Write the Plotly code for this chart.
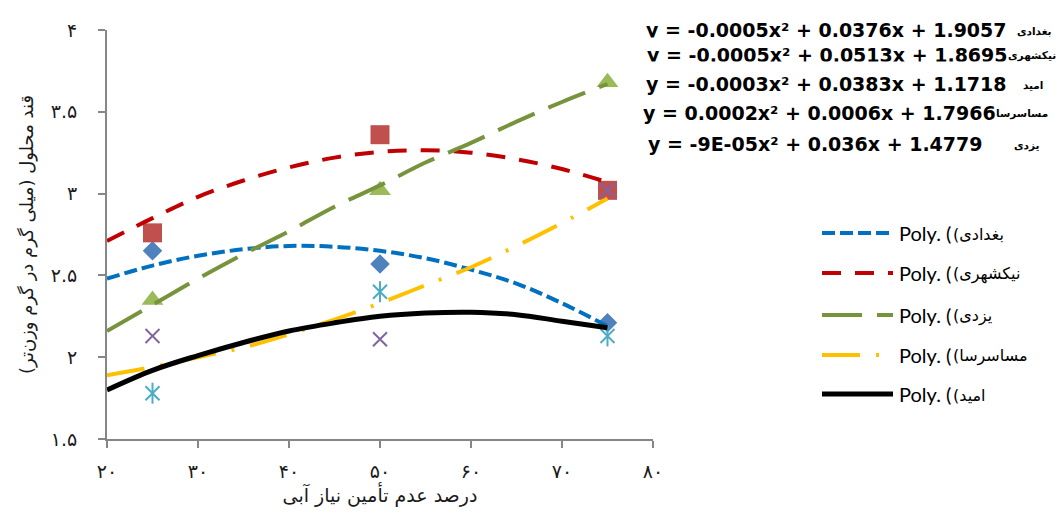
import plotly.graph_objects as go

# ---------------- data ----------------
point_x = [25, 50, 75]
baghdadi_pts = [2.65, 2.57, 2.21]      # blue diamonds
nikshahri_pts = [2.76, 3.36, 3.02]     # red squares
yazdi_pts = [2.35, 3.02, 3.68]         # green triangles
masasarsa_pts = [2.13, 2.11, 3.02]     # purple crosses
omid_pts = [1.78, 2.40, 2.13]          # cyan stars

trend_x = [20, 25, 30, 35, 40, 45, 50, 55, 60, 65, 70, 75]
baghdadi_trend = [2.48, 2.56, 2.62, 2.66, 2.68, 2.675, 2.65, 2.605, 2.535, 2.45, 2.33, 2.19]
nikshahri_trend = [2.71, 2.85, 2.98, 3.08, 3.16, 3.22, 3.255, 3.265, 3.25, 3.21, 3.15, 3.07]
yazdi_trend = [2.16, 2.32, 2.48, 2.63, 2.77, 2.92, 3.05, 3.19, 3.31, 3.44, 3.56, 3.67]
masasarsa_trend = [1.89, 1.94, 2.00, 2.06, 2.14, 2.23, 2.33, 2.44, 2.55, 2.68, 2.82, 2.97]
omid_trend = [1.80, 1.92, 2.01, 2.09, 2.16, 2.21, 2.25, 2.27, 2.275, 2.26, 2.22, 2.18]

x_tickvals = [20, 30, 40, 50, 60, 70, 80]
x_ticktext = ["۲۰", "۳۰", "۴۰", "۵۰", "۶۰", "۷۰", "۸۰"]
y_tickvals = [1.5, 2, 2.5, 3, 3.5, 4]
y_ticktext = ["۱.۵", "۲", "۲.۵", "۳", "۳.۵", "۴"]

x_title = "درصد عدم تأمین نیاز آبی"
y_title = "قند محلول (میلی گرم در گرم وزن‌تر)"

legend_names = ["بغدادی", "نیکشهری", "یزدی", "مساسرسا", "امید"]

eq_names = ["بغدادی", "نیکشهری", "امید", "مساسرسا", "یزدی"]
eq_a = ["-0.0005", "-0.0005", "-0.0003", "0.0002", "-9E-05"]
eq_b = ["0.0376", "0.0513", "0.0383", "0.0006", "0.036"]
eq_c = ["1.9057", "1.8695", "1.1718", "1.7966", "1.4779"]

# ---------------- layout geometry (pixels) ----------------
W, H = 1059, 516
L, R, T, B = 107, 653, 30, 439


def fx(px):
    return (px - L) / (R - L)


def fy(py):
    return (B - py) / (B - T)


fig = go.Figure()

# markers
marker_specs = [
    (baghdadi_pts, dict(symbol="diamond", size=15, color="#4F81BD")),
    (nikshahri_pts, dict(symbol="square", size=19, color="#C0504D")),
    (yazdi_pts, dict(symbol="triangle-up", size=19, color="#9BBB59")),
    (masasarsa_pts, dict(symbol="x-thin-open", size=14, color="#8064A2",
                         line=dict(color="#8064A2", width=2))),
    (omid_pts, dict(symbol="x-thin-open", size=14, color="#4BACC6",
                    line=dict(color="#4BACC6", width=2))),
    (omid_pts, dict(symbol="line-ns-open", size=15, color="#4BACC6",
                    line=dict(color="#4BACC6", width=2))),
]
for vals, mk in marker_specs:
    fig.add_trace(go.Scatter(x=point_x, y=vals, mode="markers", marker=mk,
                             showlegend=False, hoverinfo="skip"))

# trend lines
line_specs = [
    (baghdadi_trend, "#0070C0", "13px,5px", 4),
    (nikshahri_trend, "#C00000", "19px,14px", 4),
    (yazdi_trend, "#77933C", "40px,15px", 4),
    (masasarsa_trend, "#FFC000", "38px,16px,3px,16px", 4),
    (omid_trend, "#000000", "solid", 5),
]
for (vals, col, dash, w), nm in zip(line_specs, legend_names):
    fig.add_trace(go.Scatter(x=trend_x, y=vals, mode="lines", name="Poly. (" + nm + ")",
                             line=dict(color=col, dash=dash, width=w, shape="spline"),
                             showlegend=False))

# manual legend
leg_rows = [233, 273, 315, 355, 394]
shapes = []
annotations = []
for (vals, col, dash, w), nm, yy in zip(line_specs, legend_names, leg_rows):
    shapes.append(dict(type="line", xref="paper", yref="paper",
                       x0=fx(822), x1=fx(893), y0=fy(yy), y1=fy(yy),
                       line=dict(color=col, dash=dash, width=w)))
    annotations.append(dict(xref="paper", yref="paper", x=fx(897), y=fy(yy),
                            xanchor="left", yanchor="middle", showarrow=False,
                            text="Poly. (",
                            font=dict(family="Lato", size=20, color="#000")))
    annotations.append(dict(xref="paper", yref="paper", x=fx(951), y=fy(yy + 1),
                            xanchor="left", yanchor="middle", showarrow=False,
                            text="(" + nm,
                            font=dict(family="DejaVu Sans", size=16, color="#000")))

# equation labels (stacked, overlapping boxes)
eq_rows = [30, 55, 84, 113, 144]
eq_left = [645, 646, 645, 642, 647]
eq_name_right = [1053, 1057, 1044, 1049, 1041]
eq_pad = [1, 6, 11, 1, 1]
for nm, a, b, c, yy, xl, xn, pad in zip(eq_names, eq_a, eq_b, eq_c, eq_rows,
                                        eq_left, eq_name_right, eq_pad):
    txt = "y = " + a + "x² + " + b + "x + " + c
    annotations.append(dict(xref="paper", yref="paper", x=fx(xl - pad), y=fy(yy),
                            xanchor="left", yanchor="middle", showarrow=False,
                            text=txt, bgcolor="white", borderpad=pad,
                            font=dict(family="DejaVu Sans", size=19, color="#000",
                                      weight="bold")))
    annotations.append(dict(xref="paper", yref="paper", x=fx(xn), y=fy(yy + 1),
                            xanchor="right", yanchor="middle", showarrow=False,
                            text=nm, borderpad=0,
                            font=dict(family="DejaVu Sans", size=10.5, color="#000",
                                      weight="bold")))

axis_common = dict(showgrid=False, zeroline=False, showline=True, linecolor="#868686",
                   linewidth=2, ticks="outside", ticklen=7, tickwidth=2,
                   tickcolor="#868686",
                   tickfont=dict(family="DejaVu Sans", size=19, color="#1a1a1a"))

fig.update_layout(
    width=W, height=H,
    margin=dict(l=L, r=W - R, t=T, b=H - B, autoexpand=False),
    paper_bgcolor="white", plot_bgcolor="white", showlegend=False,
    xaxis=dict(range=[20, 80], tickvals=x_tickvals, ticktext=x_ticktext,
               ticklabelstandoff=7,
               title=dict(text=x_title, standoff=5,
                          font=dict(family="DejaVu Sans", size=19, color="#1a1a1a")),
               **axis_common),
    yaxis=dict(range=[1.5, 4], tickvals=y_tickvals, ticktext=y_ticktext,
               ticklabelstandoff=17,
               title=dict(text=y_title, standoff=12,
                          font=dict(family="DejaVu Sans", size=18, color="#1a1a1a")),
               **axis_common),
    shapes=shapes,
    annotations=annotations,
)

fig.write_html("out.html")
